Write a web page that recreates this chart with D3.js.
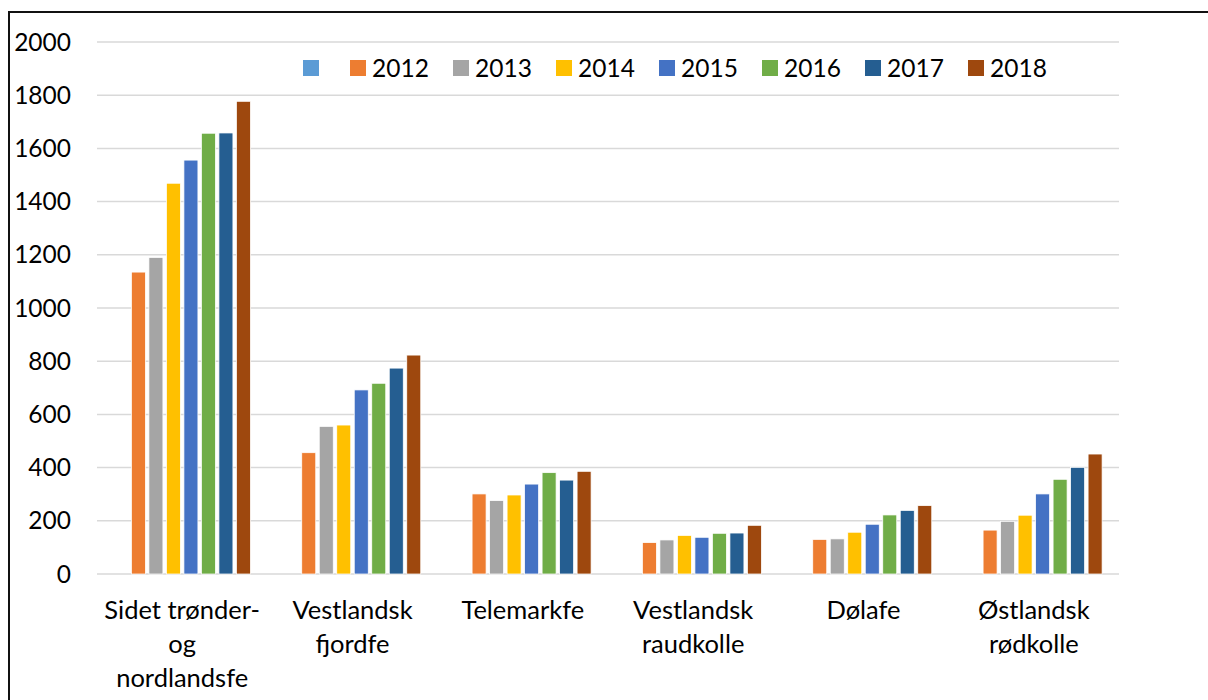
<!DOCTYPE html>
<html>
<head>
<meta charset="utf-8">
<script src="https://cdn.jsdelivr.net/npm/d3@7"></script>
<style>
  body { margin: 0; background: #fff; }
  svg { display: block; }
  text { font-family: Lato, "Open Sans", sans-serif; fill: #000; }
</style>
</head>
<body>
<script>
// chart data
const categories = ["Sidet trønder-\nog\nnordlandsfe", "Vestlandsk\nfjordfe", "Telemarkfe",
                    "Vestlandsk\nraudkolle", "Dølafe", "Østlandsk\nrødkolle"];
const seriesNames = ["", "2012", "2013", "2014", "2015", "2016", "2017", "2018"];
const seriesColors = ["#5B9BD5", "#ED7D31", "#A5A5A5", "#FFC000", "#4472C4", "#70AD47", "#255E91", "#9E480E"];
const blank = [null, null, null, null, null, null];
const v2012 = [1135, 456, 301, 118, 130, 165];
const v2013 = [1190, 555, 276, 128, 132, 198];
const v2014 = [1469, 560, 297, 145, 157, 221];
const v2015 = [1556, 692, 338, 138, 187, 301];
const v2016 = [1657, 717, 381, 153, 222, 356];
const v2017 = [1658, 774, 353, 154, 239, 401];
const v2018 = [1777, 823, 386, 183, 257, 451];
const seriesValues = [blank, v2012, v2013, v2014, v2015, v2016, v2017, v2018];
const yTicks = [0, 200, 400, 600, 800, 1000, 1200, 1400, 1600, 1800, 2000];

const W = 1208, H = 700;
const plot = { left: 97, right: 1119, top: 42, bottom: 574 };

const svg = d3.select("body").append("svg")
    .attr("width", W)
    .attr("height", H);

// outer chart border (only left and top are inside the view)
svg.append("rect")
    .attr("x", 9).attr("y", 12)
    .attr("width", 1400).attr("height", 900)
    .attr("fill", "none")
    .attr("stroke", "#111")
    .attr("stroke-width", 2);

const y = d3.scaleLinear().domain([0, 2000]).range([plot.bottom, plot.top]);

const x0 = d3.scaleBand()
    .domain(categories)
    .range([plot.left, plot.right])
    .paddingInner(0.178)
    .paddingOuter(0.089);

const x1 = d3.scaleBand()
    .domain(seriesNames.map((d, i) => i))
    .range([0, x0.bandwidth()])
    .paddingInner(0.2)
    .paddingOuter(0.1);

// gridlines
svg.append("g")
    .selectAll("line")
    .data(yTicks)
    .join("line")
    .attr("x1", plot.left).attr("x2", plot.right)
    .attr("y1", d => y(d)).attr("y2", d => y(d))
    .attr("stroke", "#d9d9d9")
    .attr("stroke-width", 1.5);

// y tick labels
svg.append("g")
    .selectAll("text")
    .data(yTicks)
    .join("text")
    .attr("x", 71)
    .attr("y", d => y(d))
    .attr("dy", "0.35em")
    .attr("text-anchor", "end")
    .style("font-size", "24.5px")
    .text(d => d);

// bars
const rows = [];
seriesValues.forEach((vals, s) => {
    vals.forEach((v, c) => {
        if (v != null) rows.push({ s, c, v });
    });
});

svg.append("g")
    .selectAll("rect")
    .data(rows)
    .join("rect")
    .attr("x", d => x0(categories[d.c]) + x1(d.s))
    .attr("width", x1.bandwidth())
    .attr("y", d => y(d.v))
    .attr("height", d => y(0) - y(d.v))
    .attr("fill", d => seriesColors[d.s])
    .attr("stroke", "#fff")
    .attr("stroke-width", 0.75);

// category labels, one tspan per line
svg.append("g")
    .selectAll("text")
    .data(categories)
    .join("text")
    .attr("text-anchor", "middle")
    .style("font-size", "25.5px")
    .each(function (cat) {
        const cx = x0(cat) + x0.bandwidth() / 2;
        d3.select(this).selectAll("tspan")
            .data(cat.split("\n"))
            .join("tspan")
            .attr("x", cx)
            .attr("y", (d, i) => 619 + i * 34)
            .text(d => d);
    });

// legend
const legendX = [303, 350, 453, 556, 659, 762, 865, 968];
const legend = svg.append("g")
    .selectAll("g")
    .data(seriesNames)
    .join("g")
    .attr("transform", (d, i) => `translate(${legendX[i]},60)`);

legend.append("rect")
    .attr("width", 16).attr("height", 16)
    .attr("fill", (d, i) => seriesColors[i]);

legend.append("text")
    .attr("x", 22)
    .attr("y", 8)
    .attr("dy", "0.35em")
    .style("font-size", "24.5px")
    .text(d => d);
</script>
</body>
</html>
